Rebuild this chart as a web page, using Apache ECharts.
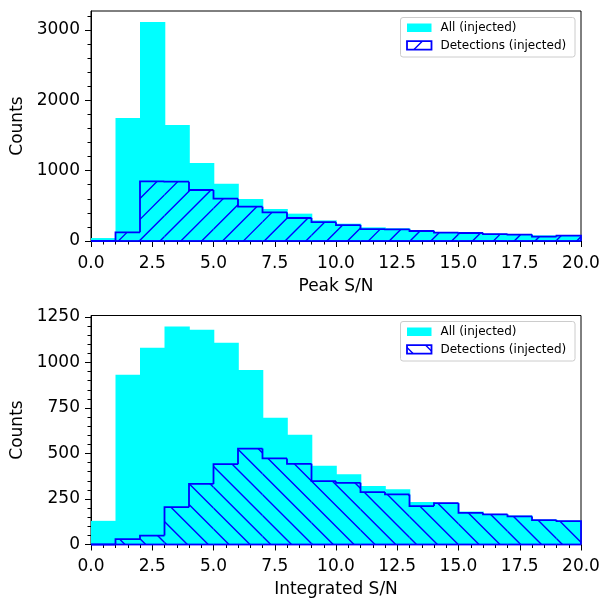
<!DOCTYPE html>
<html>
<head>
<meta charset="utf-8">
<script src="https://cdn.jsdelivr.net/npm/echarts@6/dist/echarts.min.js"></script>
<style>
  html, body { margin: 0; padding: 0; background: #ffffff; }
  #chart { width: 601px; height: 599px; }
</style>
</head>
<body>
<div id="chart"></div>
<script>
// Histogram bin edges (unit-width bins from 0 to 20)
const binEdges = [0, 1, 2, 3, 4, 5, 6, 7, 8, 9, 10, 11, 12, 13, 14, 15, 16, 17, 18, 19, 20];

// Peak S/N counts per bin
const peakAll = [42, 1749, 3114, 1649, 1109, 815, 597, 455, 389, 294, 246, 194, 180, 156, 128, 123, 104, 99, 80, 85];
const peakDet = [0, 123, 848, 843, 725, 602, 488, 408, 327, 268, 226, 170, 166, 142, 118, 114, 99, 90, 62, 76];

// Integrated S/N counts per bin
const intAll = [130, 932, 1081, 1198, 1179, 1108, 958, 696, 603, 432, 386, 322, 304, 233, 229, 181, 168, 159, 137, 132];
const intDet = [0, 29, 49, 205, 333, 441, 527, 473, 443, 348, 339, 288, 275, 211, 227, 174, 165, 154, 134, 128];

// Axis ticks
const xTicks = [0, 2.5, 5, 7.5, 10, 12.5, 15, 17.5, 20];
const peakYTicks = [0, 1000, 2000, 3000];
const peakYMinor = [0, 200, 400, 600, 800, 1000, 1200, 1400, 1600, 1800, 2000, 2200, 2400, 2600, 2800, 3000, 3200];
const intYTicks = [0, 250, 500, 750, 1000, 1250];
const intYMinor = [0, 50, 100, 150, 200, 250, 300, 350, 400, 450, 500, 550, 600, 650, 700, 750, 800, 850, 900, 950, 1000, 1050, 1100, 1150, 1200, 1250];

const seriesNames = ['All (injected)', 'Detections (injected)'];
const xNames = ['Peak S/N', 'Integrated S/N'];
const yName = 'Counts';

const FONT = 'DejaVu Sans';
const CYAN = '#00ffff';
const BLUE = '#0000ff';

// Hatch tile: 6 lines per 125px, anchored to the canvas origin
function hatchTile(dir, phase) {
  const s = 125, n = 6, step = s / n;
  const c = document.createElement('canvas');
  c.width = s; c.height = s;
  const g = c.getContext('2d');
  g.strokeStyle = BLUE;
  g.lineWidth = 1.4;
  g.beginPath();
  if (dir === '/') {
    for (let k = -2; k <= 2 * n + 2; k++) {
      const C = phase + k * step;         // x + y = C
      g.moveTo(C + 3, -3);
      g.lineTo(C - s - 3, s + 3);
    }
  } else {
    for (let k = -n - 2; k <= n + 2; k++) {
      const C = phase + k * step;         // x - y = C
      g.moveTo(C - 3, -3);
      g.lineTo(C + s + 3, s + 3);
    }
  }
  g.stroke();
  return { image: c, repeat: 'repeat' };
}
const hatchFwd = hatchTile('/', 5.2);
const hatchBack = hatchTile('\\', 17.9);

function binData(values) {
  return values.map((v, i) => [binEdges[i], binEdges[i + 1], v, i > 0 ? values[i - 1] : 0, i === values.length - 1 ? 1 : 0]);
}

// Filled histogram bars (slight overlap on the right so neighbours leave no seam)
function renderFilled(params, api) {
  const a = api.coord([api.value(0), 0]);
  const b = api.coord([api.value(1), api.value(2)]);
  const pad = api.value(4) ? 0 : 0.8;
  return {
    type: 'rect',
    shape: { x: a[0], y: b[1], width: b[0] - a[0] + pad, height: a[1] - b[1] },
    style: { fill: CYAN }
  };
}

// Hatched step outline histogram
function makeStepRenderer(pattern) {
  return function (params, api) {
    const x0 = api.value(0), x1 = api.value(1), v = api.value(2), prev = api.value(3), last = api.value(4);
    const a = api.coord([x0, 0]);
    const b = api.coord([x1, v]);
    const p = api.coord([x0, prev]);
    const pts = [[a[0], p[1]], [a[0], b[1]], [b[0], b[1]]];
    if (last) pts.push([b[0], a[1]]);
    return {
      type: 'group',
      children: [
        { type: 'rect', shape: { x: a[0], y: b[1], width: b[0] - a[0], height: a[1] - b[1] },
          style: { fill: pattern, stroke: null } },
        { type: 'line', shape: { x1: a[0], y1: a[1], x2: b[0], y2: a[1] },
          style: { stroke: BLUE, lineWidth: 1.8 } },
        { type: 'polyline', shape: { points: pts },
          style: { stroke: BLUE, lineWidth: 1.8, fill: null, lineJoin: 'miter' } }
      ]
    };
  };
}

const grids = [
  { left: 91, top: 11, width: 490, height: 230 },
  { left: 91, top: 315.5, width: 490, height: 229 }
];

function xAxisFor(gi) {
  return {
    type: 'value', gridIndex: gi, min: 0, max: 20, interval: 2.5,
    name: xNames[gi], nameLocation: 'middle', nameGap: 37,
    nameTextStyle: { fontFamily: FONT, fontSize: 17, color: '#000' },
    axisLine: { show: true, lineStyle: { color: '#000', width: 1 } },
    axisTick: { show: true, inside: false, length: 6, lineStyle: { color: '#000', width: 1 } },
    minorTick: { show: true, splitNumber: 5, length: 3.5, lineStyle: { color: '#000', width: 1 } },
    axisLabel: { fontFamily: FONT, fontSize: 17, color: '#000', margin: 14, formatter: v => v.toFixed(1) },
    splitLine: { show: false }, minorSplitLine: { show: false }
  };
}

function yAxesFor(gi, allVals, major, minor) {
  const top = Math.max(...allVals) * 1.05;
  return [
    {
      type: 'value', gridIndex: gi, min: 0, max: top,
      name: yName, nameLocation: 'middle', nameGap: 62,
      nameTextStyle: { fontFamily: FONT, fontSize: 17, color: '#000' },
      axisLine: { show: true, lineStyle: { color: '#000', width: 1 } },
      axisTick: { show: true, length: 6, customValues: major, lineStyle: { color: '#000', width: 1 } },
      axisLabel: { fontFamily: FONT, fontSize: 17, color: '#000', margin: 11, customValues: major,
        formatter: v => String(v) },
      splitLine: { show: false }
    },
    {
      type: 'value', gridIndex: gi, min: 0, max: top, position: 'left',
      axisLine: { show: false },
      axisTick: { show: true, length: 3.5, customValues: minor, lineStyle: { color: '#000', width: 1 } },
      axisLabel: { show: false },
      splitLine: { show: false }
    }
  ];
}

// Legend drawn as graphic elements inside each panel
function legendFor(top, pattern) {
  const x = 400.5;
  return [
    { type: 'rect', silent: true, z: 100,
      shape: { x: x, y: top, width: 174.5, height: 39.5, r: 2.5 },
      style: { fill: 'rgba(255,255,255,0.8)', stroke: '#cccccc', lineWidth: 1 } },
    { type: 'rect', silent: true, z: 101,
      shape: { x: 407, y: top + 6, width: 24.5, height: 8.5 },
      style: { fill: CYAN } },
    { type: 'text', silent: true, z: 101, x: 440.5, y: top + 10.3,
      style: { text: seriesNames[0], fontFamily: FONT, fontSize: 12, fill: '#000', verticalAlign: 'middle' } },
    { type: 'rect', silent: true, z: 101,
      shape: { x: 407, y: top + 23.6, width: 24.5, height: 8.5 },
      style: { fill: pattern, stroke: BLUE, lineWidth: 1.8 } },
    { type: 'text', silent: true, z: 101, x: 440.5, y: top + 28,
      style: { text: seriesNames[1], fontFamily: FONT, fontSize: 12, fill: '#000', verticalAlign: 'middle' } }
  ];
}

const chart = echarts.init(document.getElementById('chart'), null, { renderer: 'canvas' });
chart.setOption({
  animation: false,
  backgroundColor: '#ffffff',
  grid: grids.map(g => Object.assign({ show: true, borderColor: '#000', borderWidth: 1,
    containLabel: false, outerBoundsMode: 'none' }, g)),
  xAxis: [xAxisFor(0), xAxisFor(1)],
  yAxis: [...yAxesFor(0, peakAll, peakYTicks, peakYMinor), ...yAxesFor(1, intAll, intYTicks, intYMinor)],
  series: [
    { type: 'custom', name: seriesNames[0], xAxisIndex: 0, yAxisIndex: 0, renderItem: renderFilled,
      data: binData(peakAll), encode: { x: [0, 1], y: 2 }, z: 1 },
    { type: 'custom', name: seriesNames[1], xAxisIndex: 0, yAxisIndex: 0, renderItem: makeStepRenderer(hatchFwd),
      data: binData(peakDet), encode: { x: [0, 1], y: 2 }, z: 2 },
    { type: 'custom', name: seriesNames[0], xAxisIndex: 1, yAxisIndex: 2, renderItem: renderFilled,
      data: binData(intAll), encode: { x: [0, 1], y: 2 }, z: 1 },
    { type: 'custom', name: seriesNames[1], xAxisIndex: 1, yAxisIndex: 2, renderItem: makeStepRenderer(hatchBack),
      data: binData(intDet), encode: { x: [0, 1], y: 2 }, z: 2 }
  ],
  graphic: [...legendFor(17.5, hatchFwd), ...legendFor(321.5, hatchBack)]
});
</script>
</body>
</html>
